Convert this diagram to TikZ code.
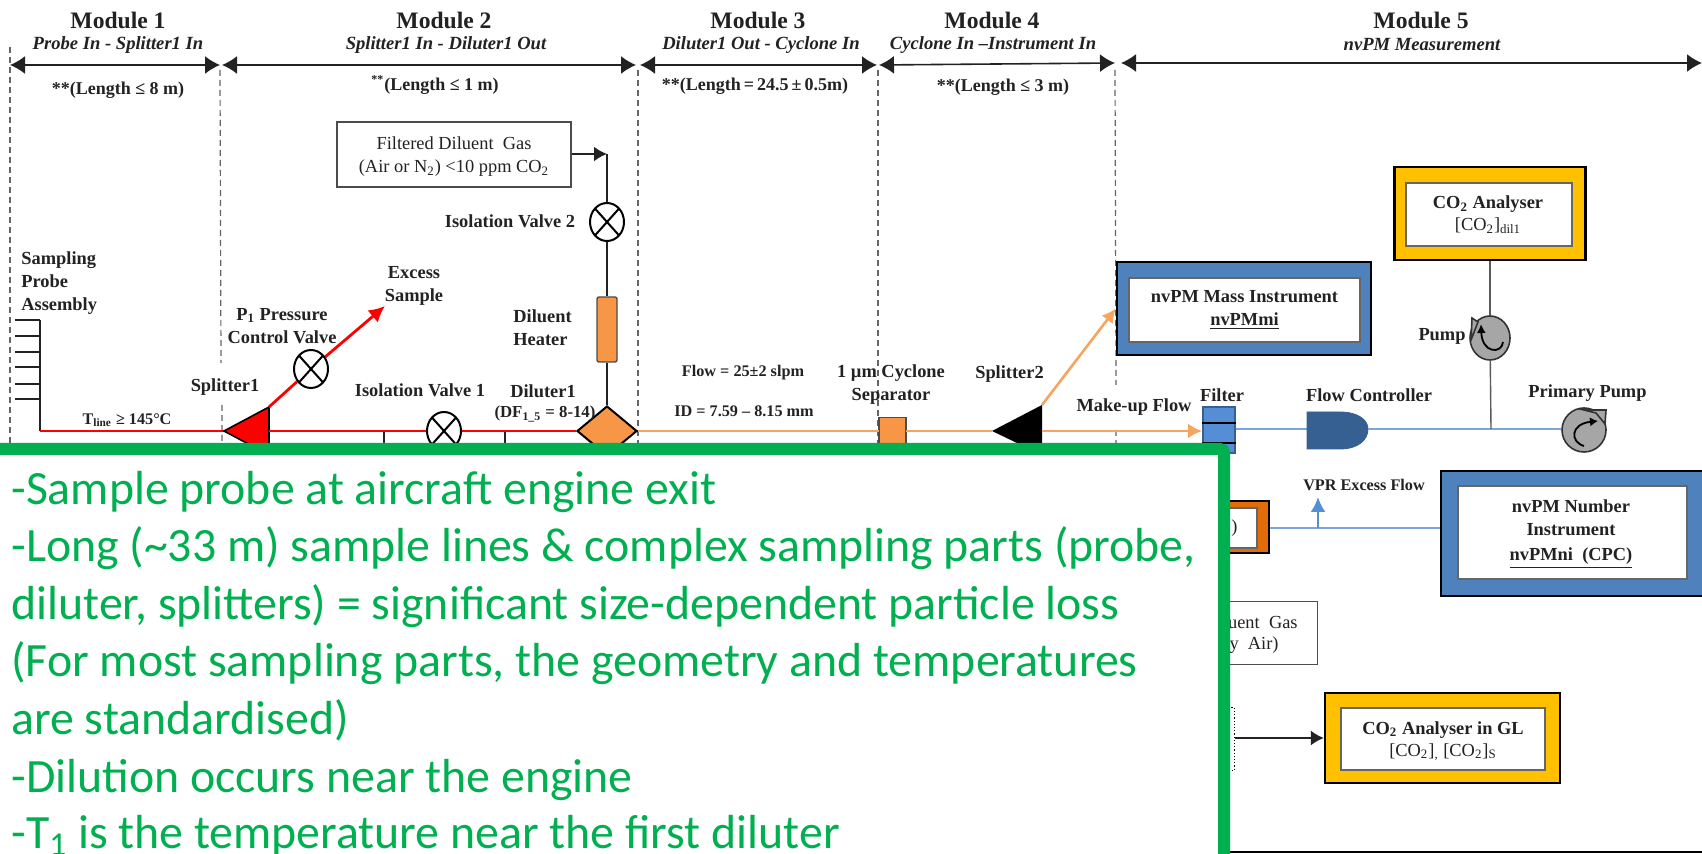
\documentclass[tikz,border=0pt]{standalone}
\usepackage{fontspec}
\setmainfont{Liberation Serif}
\newfontfamily\greenfont{Carlito}
\usetikzlibrary{arrows.meta,shapes.geometric}
\definecolor{rd}{HTML}{FF0000}
\definecolor{orl}{HTML}{F6A55F}
\definecolor{orf}{HTML}{F79646}
\definecolor{bll}{HTML}{7AA6DC}
\definecolor{blb}{HTML}{4F81BD}
\definecolor{blf}{HTML}{558ED5}
\definecolor{dkb}{HTML}{366092}
\definecolor{gold}{HTML}{FFC000}
\definecolor{dko}{HTML}{E36C0A}
\definecolor{grn}{HTML}{00B050}
\definecolor{pmp}{HTML}{A6A6A6}
\definecolor{ink}{HTML}{222222}
\tikzset{
 wh/.style 2 args={minimum width=#1*0.5pt,minimum height=#2*0.5pt,inner sep=0pt},
 mod/.style={font=\bfseries\fontsize{11.8}{14}\selectfont,text=ink,inner sep=0pt},
 sub/.style={font=\bfseries\itshape\fontsize{9.3}{11}\selectfont,text=ink,inner sep=0pt},
 len/.style={font=\bfseries\fontsize{9}{11}\selectfont,text=ink,inner sep=0pt},
 lab/.style={font=\bfseries\fontsize{9.2}{11.5}\selectfont,text=ink,inner sep=0pt,align=center},
 lableft/.style={lab,align=left},
 small/.style={font=\bfseries\fontsize{8.1}{10}\selectfont,text=ink,inner sep=0pt},
 plain/.style={font=\fontsize{9.2}{11.5}\selectfont,text=ink,inner sep=0pt,align=center},
 dim/.style={{Latex[length=7.5pt,width=9pt]}-{Latex[length=7.5pt,width=9pt]},line width=.8pt,ink},
 bound/.style={densely dashed,line width=.6pt,black!60},
 blk/.style={line width=1pt,ink},
 thin line/.style={line width=.7pt,black!65},
 redl/.style={line width=1.4pt,rd},
 orl line/.style={line width=1.3pt,orl},
 bl line/.style={line width=1.2pt,bll},
 valve/.style={ellipse,draw=black,line width=1pt,fill=white,wh={34}{38},
   path picture={\draw[line width=1pt] (path picture bounding box.north west)--(path picture bounding box.south east)
     (path picture bounding box.north east)--(path picture bounding box.south west);}},
 outerbox/.style={draw=black,line width=1.1pt},
 innerbox/.style={draw=black!60,line width=.9pt,fill=white,align=center},
 pumpbody/.style={ellipse,draw=black!80,line width=.8pt,fill=pmp},
 greentext/.style={font=\greenfont\fontsize{23.9}{28}\selectfont,text=grn,inner sep=0pt,anchor=base west},
}
\begin{document}
\begin{tikzpicture}[x=0.5pt,y=-0.5pt]
\useasboundingbox (0,0) rectangle (1702,854);
\fill[white] (0,0) rectangle (1702,854);
% headers
\node[mod] (m1) at (118,20) {Module 1};
\node[mod] (m2) at (444,20) {Module 2};
\node[mod] (m3) at (758,20) {Module 3};
\node[mod] (m4) at (992,20) {Module 4};
\node[mod] (m5) at (1421,20) {Module 5};
\node[sub] (s1) at (118,45) {Probe In - Splitter1 In};
\node[sub] (s2) at (446,45) {Splitter1 In - Diluter1 Out};
\node[sub] (s3) at (761,45) {Diluter1 Out - Cyclone In};
\node[sub] (s4) at (993,45) {Cyclone In –Instrument In};
\node[sub] (s5) at (1422,45) {nvPM Measurement};
\coordinate (b0) at (10,65); \coordinate (b1a) at (220,65); \coordinate (b1b) at (222,65);
\coordinate (b2a) at (636,65); \coordinate (b2b) at (640,65); \coordinate (b3a) at (877,65);
\coordinate (b3b) at (879,65); \coordinate (b4a) at (1115,63); \coordinate (b4b) at (1121,63); \coordinate (b5) at (1702,63);
\draw[dim] (b0)--(b1a); \draw[dim] (b1b)--(b2a); \draw[dim] (b2b)--(b3a); \draw[dim] (b3b)--(b4a); \draw[dim] (b4b)--(b5);
\node[len] (l1) at (118,90) {**(Length ≤ 8 m)};
\node[len] (l2) at (435,85) {\textsuperscript{**}(Length ≤ 1 m)};
\node[len] (l3) at (755,86) {**(Length\,=\,24.5\,±\,0.5m)};
\node[len] (l4) at (1003,87) {**(Length ≤ 3 m)};
% boundaries
\coordinate (d0a) at (10,47); \coordinate (d0b) at (10,445);
\draw[bound] (d0a)--(d0b);
\draw[bound] (220,70)--(221,363) (222,405)--(222,445);
\draw[bound] (638,70)--(638,445);
\draw[bound] (878,70)--(878,445);
\draw[bound] (1115,70)--(1116,385) (1116,430)--(1116,445);
% probe
\coordinate (pt) at (40,320); \coordinate (pb) at (40,431);
\draw[blk] (15,320)--(pt) (15,336)--(40,336) (15,352)--(40,352) (15,367)--(40,367) (15,384)--(40,384) (15,399)--(40,399);
\draw[blk] (pt)--(pb);
\node[lableft,anchor=north west] (spa) at (21,251) {Sampling\\Probe\\Assembly};
\node[small] (tl) at (127,420) {T\textsubscript{line} ≥ 145°C};
% splitter 1
\coordinate (s1tip) at (224,431); \coordinate (s1top) at (269,407); \coordinate (s1r) at (269,431);
\draw[redl] (pb)--(s1tip);
\draw[fill=rd,draw=black,line width=.8pt] (s1tip)--(s1top)--(269,455)--cycle;
\node[lab] (s1l) at (225,387) {Splitter1};
\node[valve] (vp) at (311,369) {};
\coordinate (exc) at (385,306);
\draw[redl] (s1top)--(vp);
\draw[redl,-{Latex[length=8pt,width=8pt]}] (vp)--(exc);
\node[lab] (pl) at (282,326) {P\textsubscript{1} Pressure\\Control Valve};
\node[lab] (ex) at (414,286) {Excess\\Sample};
% diluter
\node[valve] (v1) at (444,431) {};
\node[diamond,draw=black,line width=1pt,fill=orf,minimum width=30pt,minimum height=25pt,aspect=1.2,inner sep=0pt] (dil) at (607,431) {};
\coordinate (t1) at (384,431); \coordinate (t1b) at (384,450);
\coordinate (t2) at (505,431); \coordinate (t2b) at (505,450);
\draw[blk] (t1)--(t1b) (t2)--(t2b);
\draw[redl] (s1r)--(v1); \draw[redl] (v1)--(dil);
\node[lab] (iv1) at (420,390) {Isolation Valve 1};
\node[lab] (d1) at (543,391) {Diluter1};
\node[font=\bfseries\fontsize{8.4}{10}\selectfont,text=ink,inner sep=0pt] (d1b) at (545,414) {(DF\textsubscript{1\_5} = 8-14)};
% diluent branch
\node[draw=black!70,line width=.7pt,wh={234}{65}] (fd) at (454,154.5) {};
\node[plain] (fdt) at (454,157) {Filtered Diluent\ \ Gas\\(Air or N\textsubscript{2}) <10 ppm CO\textsubscript{2}};
\coordinate (corner) at (607,154);
\node[valve] (v2) at (607,222) {};
\node[draw=black!70,line width=.7pt,fill=orf,rounded corners=1pt,wh={20}{65}] (ht) at (607,329.5) {};
\draw[blk,-{Latex[length=6.5pt,width=7.5pt]}] (fd.east |- corner)--(corner);
\draw[blk] (corner)--(v2); \draw[blk] (v2)--(ht); \draw[blk] (ht)--(dil);
\node[lab] (iv2) at (510,221) {Isolation Valve 2};
\node[lableft,anchor=west] (dh) at (513,327.5) {Diluent\\Heater};
% module 3-4 line
\node[draw=black!70,line width=.7pt,fill=orf,wh={27}{50},anchor=north] (cy) at (892.5,417) {};
\coordinate (cyw) at (879,431); \coordinate (cye) at (906,431);
\coordinate (s2tip) at (992,431); \coordinate (s2top) at (1042,405); \coordinate (s2r) at (1042,431);
\draw[orl line] (dil)--(cyw); \draw[orl line] (cye)--(s2tip);
\fill[black] (s2tip)--(s2top)--(1042,455)--cycle;
\node[small] (fl) at (743,373) {Flow = 25±2 slpm};
\node[small] (id) at (744,411) {ID = 7.59 – 8.15 mm};
\node[lab] (cyl) at (891,384.5) {1 µm Cyclone\\Separator};
\node[lab] (s2l) at (1009.5,374) {Splitter2};
\node[lab] (mk) at (1134,407) {Make-up Flow};
% mass
\node[outerbox,fill=blb,wh={254}{93}] (massO) at (1244,308.5) {};
\node[innerbox,wh={231}{64},lab] (mass) at (1244.5,310) {nvPM Mass Instrument\\\underline{nvPMmi}};
\draw[orl line,-{Latex[length=7pt,width=7pt]}] (s2top)--(massO.west);
% filter
\node[draw=dkb,line width=.6pt,fill=blf,wh={32}{46}] (flt) at (1219,430) {};
\draw[line width=1.2pt,black] (flt.west |- 0,423)--(flt.east |- 0,423) (flt.west |- 0,443)--(flt.east |- 0,443);
\coordinate (fltw) at (1202,431);
\draw[orl line,-{Latex[length=7pt,width=7.5pt]}] (s2r)--(fltw);
\node[lab] (fll) at (1222,395) {Filter};
% flow controller
\coordinate (fcin) at (1307,429); \coordinate (fcout) at (1368,429); \coordinate (jn) at (1491,429);
\node[lab] (fcl) at (1369,395) {Flow Controller};
\draw[bl line] (flt.east |- fcin)--(fcin);
\draw[fill=dkb,draw=dkb] (1307,412)--(1340,412) .. controls (1358,412) and (1368,420) .. (fcout) .. controls (1368,440) and (1358,449) .. (1340,449)--(1307,449)--cycle;
% primary pump
\node[pumpbody,wh={44}{44}] (pp) at (1584,430) {};
\draw[bl line] (fcout)--(jn); \draw[bl line] (jn)--(pp.west |- jn);
\draw[draw=black!80,fill=pmp,line width=.8pt] (1584,410)--(1606,410)--(1605,424)--(1596,413)--cycle;
\draw[line width=.9pt,-{Latex[length=4pt,width=4.5pt]}] (1584,446) .. controls (1570,442) and (1570,424) .. (1598,421);
\node[lab] (ppl) at (1587.5,393) {Primary Pump};
% CO2 analyser
\node[outerbox,fill=gold,wh={191}{93}] (coO) at (1490,213.5) {};
\node[innerbox,wh={166}{63},inner sep=0pt] (co) at (1489,214.5) {};
\node[lab] (col1) at (1488,204.5) {CO\textsubscript{2} Analyser};
\node[plain] (col2) at (1488,226) {[CO\textsubscript{2}]\textsubscript{dil1}};
\node[pumpbody,wh={40}{44}] (pm) at (1490,338) {};
\draw[thin line] (coO)--(pm); \draw[thin line] (pm)--(jn);
\draw[draw=black!80,fill=pmp,line width=.8pt] (1472,318)--(1471,340)--(1478,322)--cycle;
\draw[line width=.9pt,-{Latex[length=4.5pt,width=4.5pt]}] (1503,342) .. controls (1502,354) and (1482,354) .. (1481,324);
\node[lab] (pml) at (1442,336) {Pump};
% number
\node[outerbox,fill=blb,wh={270}{125},anchor=north west] (numO) at (1440,470) {};
\node[innerbox,wh={229}{93}] (num) at (1572.5,532.5) {};
\node[lab] (nl) at (1571,517.5) {nvPM Number\\Instrument};
\node[lab] (nl2) at (1571,558) {\underline{nvPMni\ \ (CPC)}};
% VPR
\node[outerbox,fill=dko,wh={80}{52},anchor=north east] (vprO) at (1270,500) {};
\node[innerbox,wh={70}{40},anchor=north east] (vpr) at (1258,507) {};
\node[plain,anchor=east] (vprt) at (1238,528) {)};
\coordinate (vj) at (1318,528); \coordinate (vt) at (1318,497);
\draw[bl line] (vprO.east |- vj)--(numO.west |- vj);
\draw[bl line,-{Latex[length=7.5pt,width=7.5pt]},blf] (vj)--(vt);
\node[small] (vl) at (1364,485) {VPR Excess Flow};
% diluent gas 2
\node[draw=black!70,line width=.7pt,wh={180}{63},anchor=north east] (dg) at (1318,601) {};
\node[plain,anchor=east] (dg1) at (1298,622) {Diluent\ \ Gas};
\node[plain,anchor=east] (dg2) at (1279,645) {(Dry\ \ Air)};
% GL
\node[draw=black,densely dotted,line width=.6pt,wh={60}{63},anchor=north east] (dot) at (1235,707) {};
\node[outerbox,fill=gold,wh={235}{90}] (glO) at (1442.5,738) {};
\node[innerbox,wh={204}{62}] (gl) at (1443,739) {};
\node[lab] (gl1) at (1443,730) {CO\textsubscript{2} Analyser in GL};
\node[plain] (gl2) at (1443,752) {[CO\textsubscript{2}]\textsubscript{,} [CO\textsubscript{2}]\textsubscript{S}};
\draw[blk,-{Latex[length=6.5pt,width=7.5pt]}] (dot.east |- glO.west)--(glO.west);
% frame line
\coordinate (fl1) at (1100,852); \coordinate (fl2) at (1702,852);
\draw[line width=.8pt,black] (fl1)--(fl2);
% green overlay
\draw[grn,line width=6pt,fill=white,rounded corners=2pt] (-30,449)--(1224,449)--(1224,900)--(-30,900)--cycle;
\node[greentext] (g1) at (11,505) {-Sample probe at aircraft engine exit};
\node[greentext] (g2) at (11,562) {-Long (\textasciitilde33 m) sample lines \& complex sampling parts (probe,};
\node[greentext] (g3) at (11,619.5) {diluter, splitters) = significant size-dependent particle loss};
\node[greentext] (g4) at (11,677) {(For most sampling parts, the geometry and temperatures};
\node[greentext] (g5) at (11,734.5) {are standardised)};
\node[greentext] (g6) at (11,792) {-Dilution occurs near the engine};
\node[greentext] (g7) at (11,848) {-T\textsubscript{1} is the temperature near the first diluter};
\end{tikzpicture}
\end{document}
